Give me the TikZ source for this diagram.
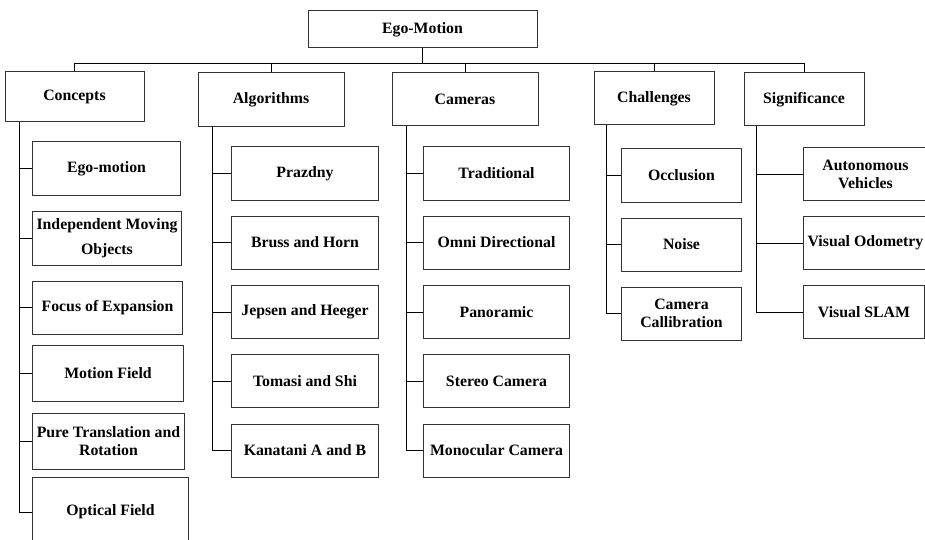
\documentclass[tikz,border=0pt]{standalone}
\usepackage{fontspec}
\setmainfont{Liberation Serif}

\begin{document}
\begin{tikzpicture}[x=1pt, y=-1pt, line width=1pt,
	box/.style={draw=black!80, align=center, inner sep=2pt, font=\bfseries\fontsize{15.8}{18}\selectfont},
	head/.style={box, minimum height=53pt},
	leaf/.style={box, anchor=west, minimum height=53pt}]
		\clip (0, 0) rectangle (925, 540);
	
		\node[box, minimum width=229pt, minimum height=37pt] (root) at (422.5, 29.5) {Ego-Motion};
		\coordinate (bus) at (422.5, 64);
	
		\node[head, minimum width=139pt, minimum height=50pt] (concepts) at (74.5, 97) {Concepts};
		\node[head, minimum width=146pt, minimum height=54pt] (algorithms) at (271, 100) {Algorithms};
		\node[head, minimum width=146pt] (cameras) at (465, 99.5) {Cameras};
		\node[head, minimum width=120pt] (challenges) at (654, 98.5) {Challenges};
		\node[head, minimum width=120pt] (significance) at (804, 99.5) {Significance};
		
		\node[leaf, minimum width=148pt] (c1) at (32, 168.5) {Ego-motion};
		\node[leaf, minimum width=149pt, minimum height=54pt] (c2) at (32, 238) {Independent Moving\\[7pt]Objects};
		\node[leaf, minimum width=150pt] (c3) at (32, 307.5) {Focus of Expansion};
		\node[leaf, minimum width=151pt, minimum height=56pt] (c4) at (32, 373) {Motion Field};
		\node[leaf, minimum width=152pt, minimum height=56pt] (c5) at (32, 441) {Pure Translation and\\Rotation};
		\node[leaf, minimum width=156pt, minimum height=70pt] (c6) at (32, 512) {Optical Field};
		
		\node[leaf, minimum width=147pt] (a1) at (231, 173.5) {Prazdny};
		\node[leaf, minimum width=147pt] (a2) at (231, 242.5) {Bruss and Horn};
		\node[leaf, minimum width=147pt] (a3) at (231, 312) {Jepsen and Heeger};
		\node[leaf, minimum width=147pt] (a4) at (231, 381) {Tomasi and Shi};
		\node[leaf, minimum width=147pt] (a5) at (231, 450.5) {Kanatani A and B};
		
		\node[leaf, minimum width=146pt] (m1) at (423, 173.5) {Traditional};
		\node[leaf, minimum width=146pt] (m2) at (423, 242.5) {Omni Directional};
		\node[leaf, minimum width=146pt] (m3) at (423, 312) {Panoramic};
		\node[leaf, minimum width=146pt] (m4) at (423, 381) {Stereo Camera};
		\node[leaf, minimum width=146pt] (m5) at (423, 450.5) {Monocular Camera};
		
		\node[leaf, minimum width=120pt] (h1) at (621, 175.5) {Occlusion};
		\node[leaf, minimum width=120pt] (h2) at (621, 244.5) {Noise};
		\node[leaf, minimum width=120pt] (h3) at (621, 313.5) {Camera\\Callibration};
		
		\node[leaf, minimum width=124pt] (s1) at (803, 174) {Autonomous\\Vehicles};
		\node[leaf, minimum width=124pt] (s2) at (803, 243) {Visual Odometry};
		\node[leaf, minimum width=121pt] (s3) at (803, 312) {Visual SLAM};
	
		\draw (root) -- (bus);
		\foreach \n in {concepts, algorithms, cameras, challenges, significance}
			\draw (\n.north) |- (bus);
		
		\foreach \n in {c1, c2, c3, c4, c5, c6}
			\draw ([xshift=15pt]concepts.south west) |- (\n.west);
		\foreach \n in {a1, a2, a3, a4, a5}
			\draw ([xshift=15pt]algorithms.south west) |- (\n.west);
		\foreach \n in {m1, m2, m3, m4, m5}
			\draw ([xshift=15pt]cameras.south west) |- (\n.west);
		\foreach \n in {h1, h2, h3}
			\draw ([xshift=13pt]challenges.south west) |- (\n.west);
		\foreach \n in {s1, s2, s3}
			\draw ([xshift=13pt]significance.south west) |- (\n.west);
\end{tikzpicture}
\end{document}
